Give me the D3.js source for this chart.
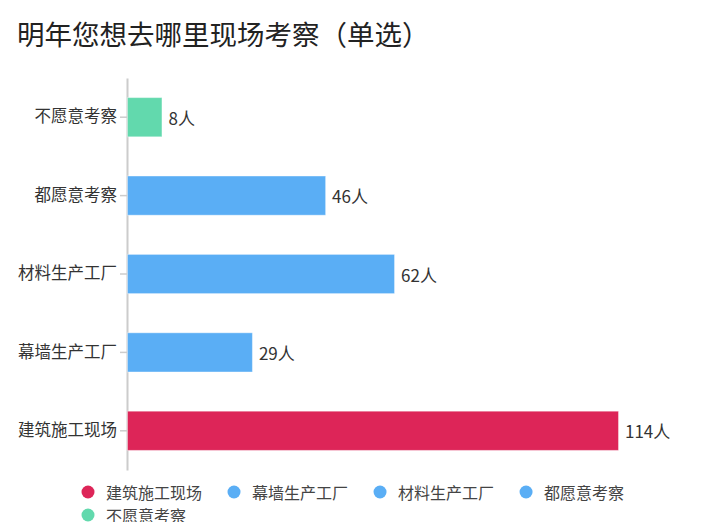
<!DOCTYPE html>
<html>
<head>
<meta charset="utf-8">
<script src="https://cdn.jsdelivr.net/npm/d3@7"></script>
<style>
  body { margin: 0; background: #fff; }
  svg { display: block; font-family: "Noto Sans CJK SC", "Noto Sans", sans-serif; }
</style>
</head>
<body>
<div id="chart"></div>
<script>
// top to bottom, as drawn
const categories = ['不愿意考察', '都愿意考察', '材料生产工厂', '幕墙生产工厂', '建筑施工现场'];
const values = [8, 46, 62, 29, 114];
const colors = ['#62d9ad', '#5aaef5', '#5aaef5', '#5aaef5', '#dd2558'];
// legend order
const legendItems = ['建筑施工现场', '幕墙生产工厂', '材料生产工厂', '都愿意考察', '不愿意考察'];
const legendColors = ['#dd2558', '#5aaef5', '#5aaef5', '#5aaef5', '#62d9ad'];
const unit = '人';

const width = 709, height = 522;
const margin = { left: 127, right: 91, top: 78, bottom: 52 };

const svg = d3.select('#chart').append('svg')
    .attr('width', width).attr('height', height);

svg.append('text')
    .attr('x', 17).attr('y', 45)
    .attr('font-size', 27.5)
    .attr('fill', '#222')
    .text('明年您想去哪里现场考察（单选）');

const x = d3.scaleLinear().domain([0, 114]).range([margin.left, width - margin.right]);
const y = d3.scaleBand().domain(categories).range([margin.top, height - margin.bottom])
    .paddingInner(0.5).paddingOuter(0.25);

const yAxis = svg.append('g')
    .attr('transform', `translate(${margin.left},0)`)
    .call(d3.axisLeft(y).tickSize(7).tickPadding(3).tickSizeOuter(0));
yAxis.select('.domain').attr('stroke', '#ccc').attr('stroke-width', 2);
yAxis.selectAll('.tick line').attr('stroke', '#ccc').attr('stroke-width', 1.5);
yAxis.selectAll('.tick text')
    .attr('font-size', 16.5)
    .attr('fill', '#333')
    .attr('font-family', '"Noto Sans CJK SC", sans-serif');

const rows = categories.map((c, i) => ({ cat: c, value: values[i], color: colors[i] }));

svg.append('g').selectAll('rect').data(rows).join('rect')
    .attr('x', x(0) + 0.5)
    .attr('y', d => y(d.cat))
    .attr('width', d => x(d.value) - x(0))
    .attr('height', y.bandwidth())
    .attr('fill', d => d.color)
    .attr('stroke', 'rgba(255,255,255,0.4)')
    .attr('stroke-width', 1);

svg.append('g').selectAll('text').data(rows).join('text')
    .attr('x', d => x(d.value) + 7)
    .attr('y', d => y(d.cat) + y.bandwidth() / 2)
    .attr('dominant-baseline', 'central')
    .attr('font-size', 17)
    .attr('fill', '#333')
    .text(d => d.value + unit);

// legend, flows left to right and wraps
const legend = svg.append('g').selectAll('g').data(legendItems).join('g');
legend.append('circle').attr('r', 6.5).attr('fill', (d, i) => legendColors[i]);
legend.append('text')
    .attr('x', 18).attr('y', 0)
    .attr('dominant-baseline', 'central')
    .attr('font-size', 16)
    .attr('fill', '#444')
    .text(d => d);

let lx = 88, ly = 492;
legend.attr('transform', function () {
    const w = 18 + this.querySelector('text').getComputedTextLength();
    if (lx + w > width - 40) { lx = 88; ly += 23; }
    const t = `translate(${lx},${ly})`;
    lx += w + 32;
    return t;
});
</script>
</body>
</html>
